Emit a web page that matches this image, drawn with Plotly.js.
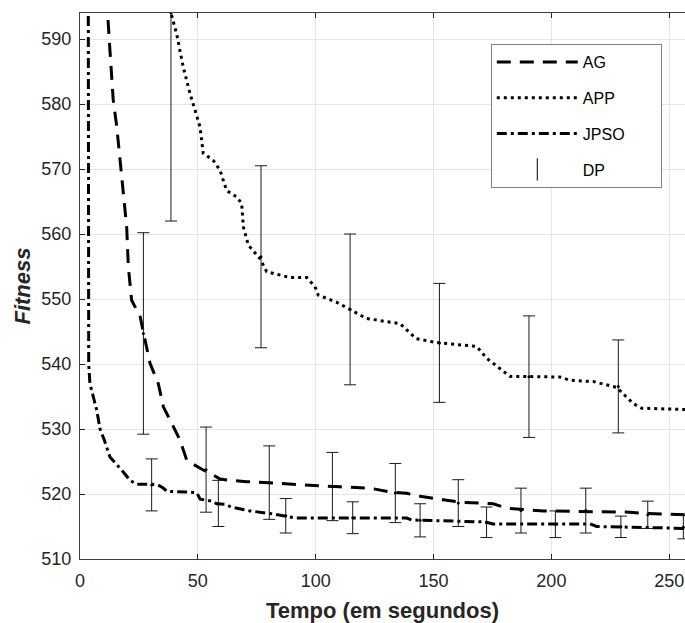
<!DOCTYPE html>
<html>
<head>
<meta charset="utf-8">
<script src="https://cdn.plot.ly/plotly-3.0.1.min.js"></script>
<style>html,body{margin:0;padding:0;background:#fff;}#chart{width:685px;height:623px;}</style>
</head>
<body>
<div id="chart"></div>
<script>
// AG (dashed)
const agX = [11.5, 11.7, 12.7, 14.1, 15.6, 17, 18.4, 19.8, 20.5, 21.9, 25.5, 26.9, 29.7, 33.2, 35.4, 38.9, 42.4, 45.3, 47.4, 52.3, 55.2, 59.4, 63.6, 70.7, 80.6, 91.9, 110.3, 123, 131.5, 138.6, 145, 154.1, 162.6, 175.4, 181, 196.6, 233.3, 240.4, 256.7];
const agY = [600, 594, 588.3, 580.6, 576.5, 571.3, 567.2, 561.1, 555, 549.8, 547.3, 544.7, 540.1, 537, 533.4, 530.9, 528.3, 525.2, 524.7, 523.7, 523.2, 522.3, 522.1, 521.9, 521.7, 521.4, 521.1, 520.9, 520.3, 520.1, 519.6, 519.1, 518.7, 518.5, 517.8, 517.4, 517.2, 517.0, 516.8];
// APP (dotted)
const appX = [38.4, 38.6, 41, 43.8, 46.7, 48.8, 50.9, 52.3, 56.6, 59.4, 62.2, 66.5, 68.6, 69.3, 71.4, 76.4, 79.2, 89.1, 96.2, 99.7, 101.1, 108.9, 114.6, 121.6, 135.8, 142.6, 151.3, 168.3, 172.5, 179.6, 182.4, 203.6, 207.9, 217.8, 227.7, 234.8, 238.3, 256.7];
const appY = [598, 594, 590.8, 585.7, 581.6, 579, 576.5, 572.4, 571.3, 569.8, 566.7, 565.7, 564.7, 561.1, 558.3, 556.2, 554.2, 553.3, 553.3, 551.9, 550.6, 549.5, 548.4, 547, 546.2, 543.9, 543.3, 542.7, 540.9, 538.8, 538.1, 538.0, 537.5, 537.3, 536.4, 533.9, 533.2, 533.0];
// JPSO (dash-dot)
const jpsoX = [3.5, 3.5, 3.7, 4.2, 5.5, 7.1, 8.5, 10.3, 12.7, 14.5, 16.2, 18.8, 21.2, 24, 30, 33, 35, 37, 45, 49.5, 51, 55.9, 58, 62, 64, 68, 72, 80.6, 87.5, 91.9, 138.6, 140.7, 171.8, 175.2, 216.4, 219.2, 246, 256.7];
const jpsoY = [600, 545, 540, 537, 535, 532.9, 530, 528.3, 525.7, 525, 524.2, 523.2, 522.1, 521.5, 521.5, 521.4, 521, 520.4, 520.3, 520.2, 519.2, 518.9, 518.5, 518.4, 518, 517.7, 517.4, 517, 516.6, 516.3, 516.3, 516, 515.7, 515.4, 515.4, 515.0, 514.8, 514.7];
// DP (standard deviation bars)
const dpX = [26.9, 30.4, 38.6, 53.5, 58.7, 76.8, 80.3, 87.3, 107.1, 114.6, 115.7, 133.8, 144.3, 152.5, 160.5, 172.5, 187.1, 190.5, 201.7, 214.6, 228.4, 229.5, 240.9, 256];
const dpMean = [544.7, 521.4, 594, 523.75, 518.55, 556.5, 521.75, 516.65, 521.15, 548.4, 516.35, 520.15, 515.95, 543.25, 518.6, 515.65, 517.45, 538.05, 515.35, 517.45, 536.55, 514.95, 516.8, 514.9];
const dpSD = [15.5, 4.0, 32, 6.55, 3.55, 14, 5.65, 2.65, 5.25, 11.6, 2.45, 4.55, 2.55, 9.15, 3.6, 2.35, 3.45, 9.35, 2.05, 3.45, 7.15, 1.65, 2.1, 1.8];

const xTicks = [0, 50, 100, 150, 200, 250];
const yTicks = [510, 520, 530, 540, 550, 560, 570, 580, 590];

const FONT = 'Liberation Sans, Arial, Helvetica, sans-serif';
const PAD = '\u00a0'.repeat(7);

const traces = [
  {x: agX, y: agY, name: 'AG', mode: 'lines', legendgroup: 'a',
   line: {color: '#000', width: 3, dash: '14px,9px'}},
  {x: appX, y: appY, name: 'APP', mode: 'lines', legendgroup: 'b',
   line: {color: '#000', width: 3, dash: '3px,4px'}},
  {x: jpsoX, y: jpsoY, name: 'JPSO' + PAD, mode: 'lines', legendgroup: 'c',
   line: {color: '#000', width: 3, dash: '10px,4px,3px,4px'}},
  {x: dpX, y: dpMean, name: 'DP', mode: 'markers', showlegend: false,
   marker: {color: '#000', size: 3},
   error_y: {type: 'data', array: dpSD, visible: true, color: '#1a1a1a', thickness: 1, width: 6}},
  {x: [null], y: [null], name: 'DP', mode: 'markers', legendgroup: 'd',
   marker: {color: '#000', size: 24, symbol: 'line-ns-open', line: {width: 1, color: '#000'}}}
];

const layout = {
  width: 685, height: 623,
  margin: {l: 80, r: 0, t: 13, b: 64},
  paper_bgcolor: '#fff', plot_bgcolor: '#fff',
  font: {family: FONT, color: '#262626'},
  showlegend: true,
  legend: {
    x: 0.679, y: 0.943, xanchor: 'left', yanchor: 'top',
    bgcolor: '#fff', bordercolor: '#7f7f7f', borderwidth: 1,
    font: {family: FONT, size: 16, color: '#000'},
    tracegroupgap: 12, itemwidth: 81
  },
  xaxis: {
    range: [0, 256.7],
    tickvals: xTicks, ticktext: xTicks.map(String),
    ticks: 'inside', ticklen: 5, tickcolor: '#262626',
    showline: true, linecolor: '#404040', linewidth: 1, mirror: 'ticks',
    showgrid: true, gridcolor: '#e6e6e6', gridwidth: 1,
    zeroline: false,
    tickfont: {family: FONT, size: 18, color: '#262626'},
    ticklabelstandoff: 5,
    title: {text: 'Tempo (em segundos)', font: {family: FONT, size: 22, color: '#262626', weight: 'bold'}, standoff: 13}
  },
  yaxis: {
    range: [510, 594],
    tickvals: yTicks, ticktext: yTicks.map(String),
    ticks: 'inside', ticklen: 5, tickcolor: '#262626',
    showline: true, linecolor: '#404040', linewidth: 1,
    showgrid: true, gridcolor: '#e6e6e6', gridwidth: 1,
    zeroline: false,
    tickfont: {family: FONT, size: 18, color: '#262626'},
    ticklabelstandoff: 4,
    title: {text: '<i>Fitness</i>', font: {family: FONT, size: 22, color: '#262626', weight: 'bold'}, standoff: 4}
  }
};

Plotly.newPlot('chart', traces, layout, {displayModeBar: false, staticPlot: true});
</script>
</body>
</html>
